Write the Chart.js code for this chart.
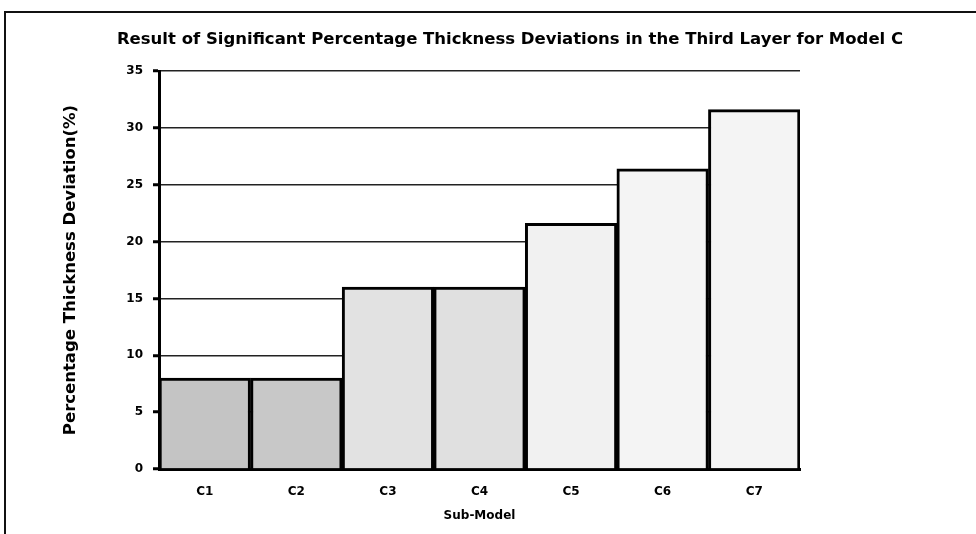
<!DOCTYPE html>
<html>
<head>
<meta charset="utf-8">
<title>Significant Percentage Thickness Deviations - Model C</title>
<script src="https://cdn.jsdelivr.net/npm/chart.js@4.4.1/dist/chart.umd.min.js"></script>
<style>
  html, body { margin: 0; padding: 0; background: #fff; }
  #wrap { width: 976px; height: 534px; position: relative; }
</style>
</head>
<body>
<div id="wrap"><canvas id="chart" width="976" height="534"></canvas></div>
<script>
// ── Data ──
var subModels = ['C1', 'C2', 'C3', 'C4', 'C5', 'C6', 'C7'];
var deviations = [8.0, 8.0, 16.0, 16.0, 21.6, 26.4, 31.6];
var yTicks = [0, 5, 10, 15, 20, 25, 30, 35];

var chartTitle = 'Result of Significant Percentage Thickness Deviations in the Third Layer for Model C';
var xTitle = 'Sub-Model';
var yTitle = 'Percentage Thickness Deviation(%)';

(function () {
  'use strict';

  var FONT = "'DejaVu Sans', 'Liberation Sans', Arial, sans-serif";

  // scanned stipple tone, darker for the low bars
  var fills = ['#c4c4c4', '#c8c8c8', '#e2e2e2', '#e0e0e0', '#f1f1f1', '#f4f4f4', '#f4f4f4'];

  // ── Frame + title drawn on the canvas ──
  var framePlugin = {
    id: 'frame',
    beforeDraw: function (chart) {
      var c = chart.ctx;
      c.save();
      c.fillStyle = '#fff';
      c.fillRect(0, 0, chart.width, chart.height);
      c.strokeStyle = '#111';
      c.lineWidth = 2;
      c.beginPath();
      c.moveTo(5, chart.height + 2);
      c.lineTo(5, 12);
      c.lineTo(chart.width + 2, 12);
      c.stroke();
      c.restore();
    },
    afterDraw: function (chart) {
      var c = chart.ctx;
      c.save();
      c.fillStyle = '#000';
      c.font = 'bold 16.5px ' + FONT;
      c.textAlign = 'center';
      c.textBaseline = 'middle';
      c.fillText(chartTitle, 510, 40);
      c.restore();
    }
  };

  new Chart(document.getElementById('chart'), {
    type: 'bar',
    data: {
      labels: subModels,
      datasets: [{
        data: deviations,
        backgroundColor: fills,
        borderColor: '#000',
        borderWidth: 3,
        borderSkipped: 'bottom',
        barPercentage: 1,
        categoryPercentage: 1
      }]
    },
    plugins: [framePlugin],
    options: {
      responsive: false,
      animation: false,
      layout: { padding: { left: 0, top: 71, right: 176, bottom: 0 } },
      plugins: {
        legend: { display: false },
        tooltip: { enabled: false },
        title: { display: false }
      },
      scales: {
        x: {
          grid: { display: false, drawTicks: false },
          border: { color: '#000', width: 3 },
          ticks: {
            color: '#000',
            padding: 16,
            font: { family: FONT, size: 12, weight: 'bold' }
          },
          title: {
            display: true,
            text: xTitle,
            color: '#000',
            font: { family: FONT, size: 12, weight: 'bold' },
            padding: { top: 0, bottom: 11 }
          },
          afterFit: function (scale) { scale.height = 65; }
        },
        y: {
          min: 0,
          max: 35,
          afterBuildTicks: function (scale) {
            scale.ticks = yTicks.map(function (v) { return { value: v }; });
          },
          grid: {
            color: '#222',
            lineWidth: 1.5,
            tickLength: 6,
            tickColor: '#000',
            tickWidth: 3
          },
          border: { color: '#000', width: 3 },
          ticks: {
            color: '#000',
            padding: 10,
            font: { family: FONT, size: 12, weight: 'bold' }
          },
          title: {
            display: true,
            text: yTitle,
            color: '#000',
            font: { family: FONT, size: 16.5, weight: 'bold' },
            padding: 61
          },
          afterFit: function (scale) { scale.width = 159; }
        }
      }
    }
  });
})();
</script>
</body>
</html>
